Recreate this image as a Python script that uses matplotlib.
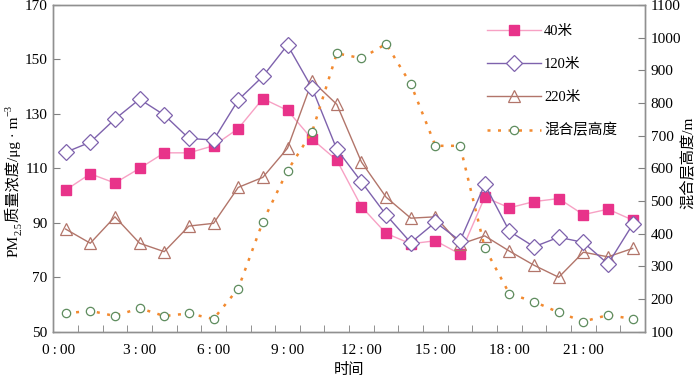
import matplotlib
matplotlib.use("Agg")
import matplotlib.pyplot as plt
import numpy as np

FAM = ['Liberation Serif', 'Noto Sans CJK SC']
plt.rcParams['font.family'] = FAM

hours = list(range(24))
tick_labels = ["0\u2009:\u200900", "3\u2009:\u200900", "6\u2009:\u200900", "9\u2009:\u200900",
               "12\u2009:\u200900", "15\u2009:\u200900", "18\u2009:\u200900", "21\u2009:\u200900"]

pm_40 = [102.0, 108.0, 104.6, 110.0, 115.7, 115.7, 118.3, 124.6, 135.6, 131.3, 120.7, 113.0,
         95.9, 86.1, 82.3, 83.4, 78.5, 99.4, 95.5, 97.8, 98.9, 93.0, 95.0, 91.0]
pm_120 = [115.9, 119.6, 128.1, 135.4, 129.6, 121.0, 120.4, 135.1, 143.8, 155.3, 139.4, 117.0,
          105.0, 92.9, 82.7, 90.2, 83.4, 104.1, 86.9, 81.2, 84.7, 82.8, 74.9, 89.4]
pm_220 = [87.7, 82.5, 92.2, 82.5, 79.4, 88.8, 89.8, 103.0, 106.7, 117.4, 142.1, 133.5,
          112.3, 99.4, 91.7, 92.2, 82.1, 85.2, 79.6, 74.4, 70.0, 79.2, 77.5, 80.6]
mlh = [156, 164, 148, 172, 148, 156, 139, 232, 437, 593, 712, 952,
       937, 981, 858, 669, 669, 357, 216, 192, 159, 131, 151, 139]

W, H = 700, 379
fig = plt.figure(figsize=(7.0, 3.79), dpi=100)
ax = fig.add_axes([53.3 / W, 1 - 331.7 / H, (645 - 53.3) / W, (331.7 - 5) / H])
ax2 = ax.twinx()

x = np.array(hours)
l1, = ax.plot(x, pm_40, color='#f7a1c4', lw=1.0, marker='s', ms=6.5,
              mfc='#e8338a', mec='#e8338a', label='40米', zorder=3)
l2, = ax.plot(x, pm_120, color='#7e62ad', lw=1.0, marker='D', ms=8.5,
              mfc='white', mec='#7e62ad', mew=0.9, label='120米', zorder=4)
l3, = ax.plot(x, pm_220, color='#b2756a', lw=1.0, marker='^', ms=9,
              mfc='none', mec='#b2756a', mew=0.9, label='220米', zorder=3)
l4, = ax2.plot(x, mlh, color='#f28a30', lw=1.8, ls=(0, (1.2, 3.0)), marker='o', ms=6,
               mfc='white', mec='#5e8c5e', mew=0.9, label='混合层高度')

ax.set_xlim(-0.5, 23.5)
ax.set_ylim(50, 170)
ax2.set_ylim(100, 1100)
ax.set_yticks([50, 70, 90, 110, 130, 150, 170])
ax2.set_yticks(list(range(100, 1101, 100)))

ax.set_xticks([-0.3, 3, 6, 9, 12, 15, 18, 21])
ax.set_xticklabels(tick_labels)
ax.set_xticks(np.arange(0.5, 23, 1.0), minor=True)
ax.tick_params(axis='x', which='major', length=0, pad=9, labelsize=11)
ax.tick_params(axis='x', which='minor', direction='in', length=5, color='#808080')
ax.tick_params(axis='y', direction='in', length=5, color='#808080', labelsize=11, pad=4)
ax2.tick_params(axis='y', direction='in', length=5, color='#808080', labelsize=11, pad=4)

for a in (ax, ax2):
    for s in a.spines.values():
        s.set_color('#909090')
        s.set_linewidth(1.0)

ax.set_xlabel('时间', fontsize=11, labelpad=4)

# right label
fig.text(687 / W, 1 - 163 / H, '混合层高度/m', rotation=90, ha='center', va='center', fontsize=11)

# left composite label (rotated, stacked along y)
renderer = fig.canvas.get_renderer()
pieces = [('PM', 11, 0), ('2.5', 7.5, 3.5), ('质量浓度/μg · m', 11, 0), ('\u22123', 7.5, -6)]
base_x = 18.0
texts = []
lengths = []
for s, fs, dx in pieces:
    t = fig.text(0, 0, s, rotation=90, rotation_mode='anchor', ha='left', va='baseline',
                 fontsize=fs, transform=None)
    texts.append((t, dx))
    lengths.append(t.get_window_extent(renderer).height)
total = sum(lengths)
y_center = H - 181
y = y_center - total / 2
for (t, dx), L in zip(texts, lengths):
    t.set_position((base_x + dx, y))
    y += L

leg = ax.legend(handles=[l1, l2, l3, l4], loc='upper left',
                bbox_to_anchor=((486 - 53.3 - 12) / (645 - 53.3), 1 - 7 / 326.7),
                frameon=False, fontsize=10.5, handlelength=3.7, handletextpad=0.2,
                labelspacing=1.34, borderaxespad=0.5)

fig.savefig('out.png', dpi=100)
